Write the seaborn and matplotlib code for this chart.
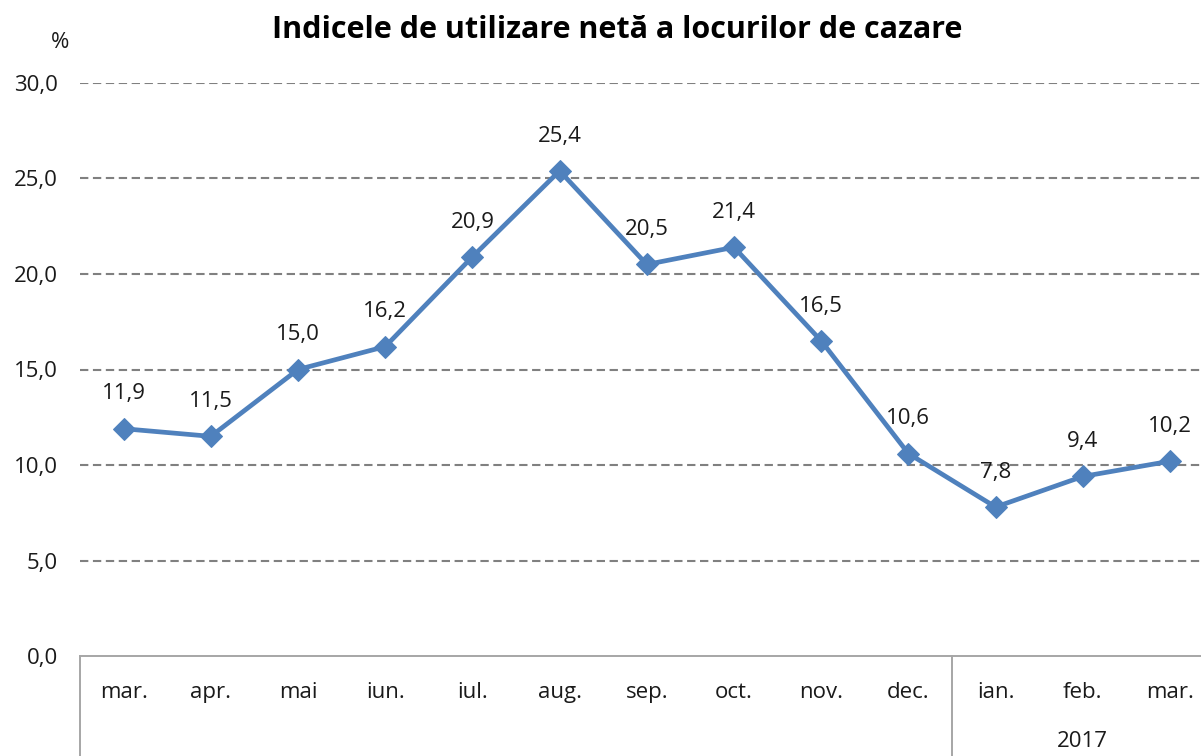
import numpy as np
import matplotlib
matplotlib.use("Agg")
import matplotlib.pyplot as plt
import matplotlib.transforms as mtransforms
import seaborn as sns

# data
months = ["mar.", "apr.", "mai", "iun.", "iul.", "aug.", "sep.",
          "oct.", "nov.", "dec.", "ian.", "feb.", "mar."]
values = [11.9, 11.5, 15.0, 16.2, 20.9, 25.4, 20.5, 21.4, 16.5, 10.6, 7.8, 9.4, 10.2]
year_label = "2017"
year_start = 10  # index of first month in 2017

sns.set_style("white")
plt.rcParams['font.family'] = ['Open Sans', 'DejaVu Sans']

fig = plt.figure(figsize=(12.01, 7.56), dpi=100)
ax = fig.add_axes([80 / 1201, 1 - 656 / 756, (1213.6 - 80) / 1201, 573 / 756])

x = np.arange(len(months))
blue = "#4F81BD"
sns.lineplot(x=x, y=values, ax=ax, color=blue, linewidth=3.4,
             marker="D", markersize=11, markeredgecolor=blue)

fs = 16
# data labels
for xi, v in zip(x, values):
    ax.annotate(f"{v:.1f}".replace(".", ","), (xi, v), xytext=(0, 25),
                textcoords="offset points", ha="center", va="center",
                fontsize=fs, color="#1a1a1a")

ax.set_xlim(-0.5, len(months) - 0.5)
ax.set_ylim(0, 30)
ax.set_yticks(np.arange(0, 31, 5))
ax.set_yticklabels([f"{t:.1f}".replace(".", ",") for t in np.arange(0, 31, 5)])
ax.set_xticks(x)
ax.set_xticklabels(months)
ax.tick_params(axis="both", length=0, labelsize=fs, colors="#1a1a1a")
ax.tick_params(axis="x", pad=19)
ax.tick_params(axis="y", pad=16)

# dashed gridlines
for t in np.arange(5, 31, 5):
    ax.axhline(t, color="#808080", linestyle=(0, (4, 2.2)), linewidth=1.5, zorder=0)

for s in ["top", "right", "left"]:
    ax.spines[s].set_visible(False)
ax.spines["bottom"].set_color("#a6a6a6")
ax.spines["bottom"].set_linewidth(1.4)

# category table lines below axis
trans = mtransforms.blended_transform_factory(ax.transData, ax.transAxes)
for xv in [-0.5, year_start - 0.5]:
    ax.plot([xv, xv], [0, -0.3], transform=trans, color="#a6a6a6",
            linewidth=1.4, clip_on=False)
ax.text(11, -0.15, year_label, transform=trans, ha="center", va="center",
        fontsize=fs, color="#1a1a1a")

fig.text(617 / 1201, 1 - 30 / 756, "Indicele de utilizare netă a locurilor de cazare",
         ha="center", va="center", fontsize=22, fontweight="bold", color="#000000")
fig.text(60 / 1201, 1 - 42 / 756, "%", ha="center", va="center",
         fontsize=fs, color="#1a1a1a")

fig.savefig("out.png", dpi=100)
